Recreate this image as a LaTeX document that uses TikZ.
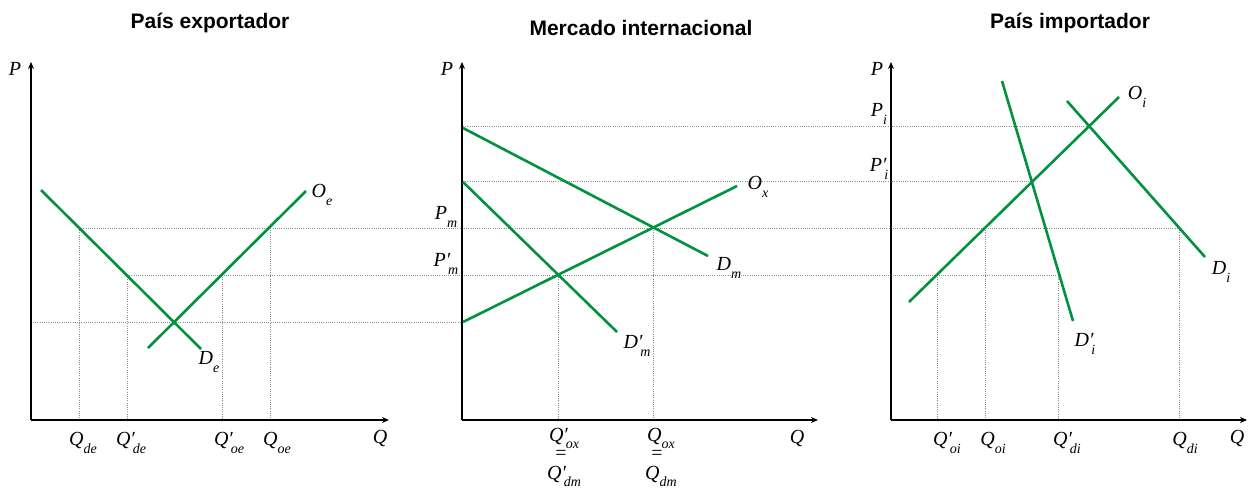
\documentclass[tikz,border=0pt]{standalone}
\usepackage{fontspec}
\setmainfont{Liberation Serif}
\newfontfamily\titlefont{Liberation Sans}
\usetikzlibrary{arrows.meta}
\definecolor{curvegreen}{RGB}{0,146,63}
\newcommand\lsub[2]{\textit{#1}\raisebox{-0.85ex}{\fontsize{14}{14}\selectfont\textit{#2}}}
\newcommand\lsubp[2]{\textit{#1}\rlap{\textit{′}}\raisebox{-0.85ex}{\fontsize{14}{14}\selectfont\textit{\,#2}}}
\tikzset{
  curve/.style={draw=curvegreen, line width=2.6pt},
  guide/.style={draw=black!45, line width=0.8pt, dash pattern=on 1pt off 1.2pt},
  axis/.style={draw=black, line width=1.8pt, -{Stealth[length=7pt,width=6pt]}},
  lab/.style={font=\fontsize{20}{20}\selectfont, inner sep=0pt},
  ttl/.style={font=\titlefont\bfseries\fontsize{21}{22}\selectfont, inner sep=0pt}
}
\begin{document}
\begin{tikzpicture}[x=1pt,y=-1pt]
\useasboundingbox (0,0) rectangle (1248,488);
\fill[white] (0,0) rectangle (1248,488);
% titles
\node[ttl] (t1) at (210,23) {País exportador};
\node[ttl] (t2) at (641,28) {Mercado internacional};
\node[ttl] (t3) at (1070,23) {País importador};
% horizontal guides
\draw[guide] (463,126) -- (1088,126);
\draw[guide] (463,181) -- (1031,181);
\draw[guide] (79,228) -- (1179,228);
\draw[guide] (127,275) -- (1058,275);
\draw[guide] (33,322) -- (462,322);
% vertical guides panel 1
\draw[guide] (79,228) -- (79,420);
\draw[guide] (127,275) -- (127,420);
\draw[guide] (222,275) -- (222,420);
\draw[guide] (270,228) -- (270,420);
% panel 2
\draw[guide] (558,275) -- (558,420);
\draw[guide] (653,228) -- (653,420);
% panel 3
\draw[guide] (937,275) -- (937,420);
\draw[guide] (985,228) -- (985,420);
\draw[guide] (1058,275) -- (1058,420);
\draw[guide] (1179,228) -- (1179,420);
% axes
\coordinate (o1) at (31,420); \coordinate (y1) at (31,62); \coordinate (x1) at (389,420);
\coordinate (o2) at (462,420); \coordinate (y2) at (462,62); \coordinate (x2) at (818,420);
\coordinate (o3) at (891,420); \coordinate (y3) at (891,62); \coordinate (x3) at (1247,420);
\draw[axis] (o1) -- (y1); \draw[axis] (o1) -- (x1);
\draw[axis] (o2) -- (y2); \draw[axis] (o2) -- (x2);
\draw[axis] (o3) -- (y3); \draw[axis] (o3) -- (x3);
% curves panel 1
\draw[curve] (41,190) -- (201,349);
\draw[curve] (148,348) -- (306,191);
% curves panel 2
\draw[curve] (463,128) -- (708,256);
\draw[curve] (463,182) -- (617,332);
\draw[curve] (463,322) -- (737,186);
% curves panel 3
\draw[curve] (1002,81) -- (1073,321);
\draw[curve] (909,302) -- (1119,97);
\draw[curve] (1067,101) -- (1205,257);
% axis labels
\node[lab] (p1) at (15,69) {\textit{P}};
\node[lab] (p2) at (447,69) {\textit{P}};
\node[lab] (p3) at (877,69) {\textit{P}};
\node[lab] (q1) at (380,438) {\textit{Q}};
\node[lab] (q2) at (797,438) {\textit{Q}};
\node[lab] (q3) at (1237,438) {\textit{Q}};
% curve labels
\node[lab] (oe) at (322,195) {\lsub{O}{e}};
\node[lab] (de) at (209,362) {\lsub{D}{e}};
\node[lab] (ox) at (758,187) {\lsub{O}{x}};
\node[lab] (dm) at (729,268) {\lsub{D}{m}};
\node[lab] (dmp) at (637,346) {\lsubp{D}{m}};
\node[lab] (oi) at (1137,97) {\lsub{O}{i}};
\node[lab] (di) at (1221,272) {\lsub{D}{i}};
\node[lab] (dip) at (1085,344) {\lsubp{D}{i}};
% price labels
\node[lab] (pm) at (446,217) {\lsub{P}{m}};
\node[lab] (pmp) at (446,264) {\lsubp{P}{m}};
\node[lab] (pi) at (879,114) {\lsub{P}{i}};
\node[lab] (pip) at (879,169) {\lsubp{P}{i}};
% quantity labels panel 1
\node[lab] (qde) at (83,443) {\lsub{Q}{de}};
\node[lab] (qdep) at (131,443) {\lsubp{Q}{de}};
\node[lab] (qoep) at (229,443) {\lsubp{Q}{oe}};
\node[lab] (qoe) at (277,443) {\lsub{Q}{oe}};
% panel 2
\node[lab, anchor=base] (qoxp) at (564,441) {\lsubp{Q}{ox}};
\node[lab, anchor=base] (eq1) at (561,459) {=};
\node[lab, anchor=base] (qdmp) at (564,479) {\lsubp{Q}{dm}};
\node[lab, anchor=base] (qox) at (661,441) {\lsub{Q}{ox}};
\node[lab, anchor=base] (eq2) at (657,459) {=};
\node[lab, anchor=base] (qdm) at (661,479) {\lsub{Q}{dm}};
% panel 3
\node[lab] (qoip) at (947,443) {\lsubp{Q}{oi}};
\node[lab] (qoi) at (993,443) {\lsub{Q}{oi}};
\node[lab] (qdip) at (1067,443) {\lsubp{Q}{di}};
\node[lab] (qdi) at (1185,443) {\lsub{Q}{di}};
\end{tikzpicture}
\end{document}
